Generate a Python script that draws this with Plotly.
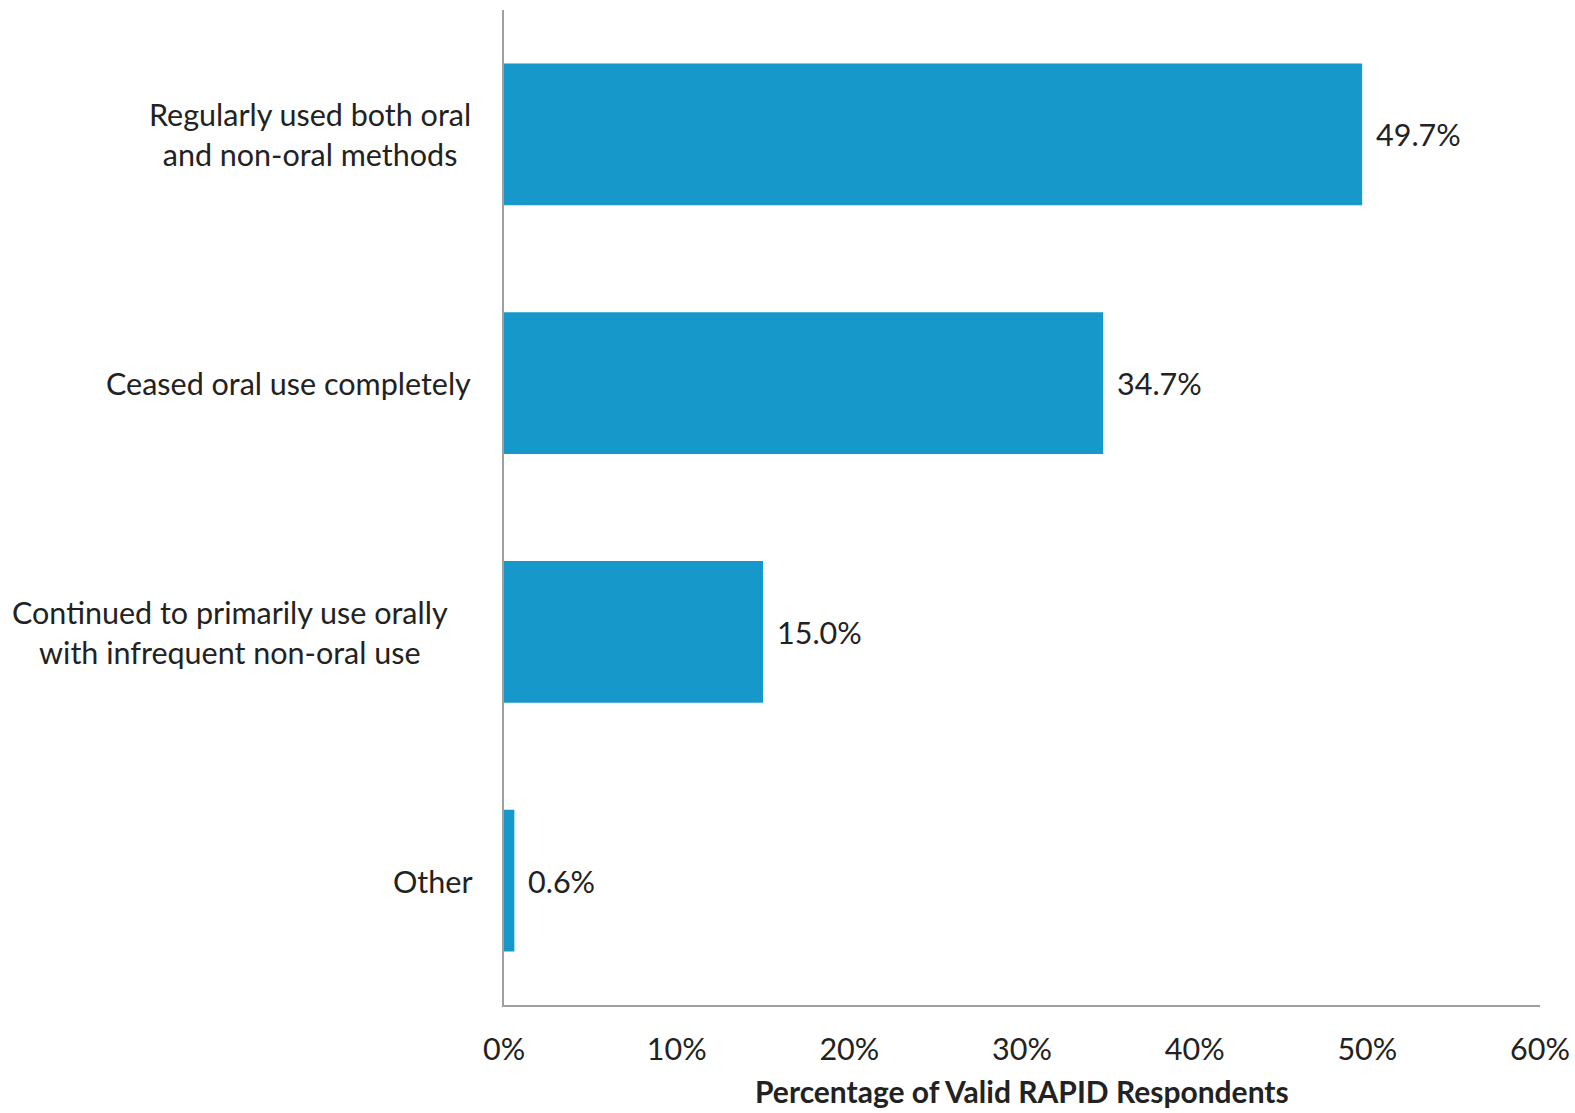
import plotly.graph_objects as go

categories = [
    "Regularly used both oral<br>and non-oral methods",
    "Ceased oral use completely",
    "Continued to primarily use orally<br>with infrequent non-oral use",
    "Other",
]
values = [49.7, 34.7, 15.0, 0.6]
tick_vals = [0, 10, 20, 30, 40, 50, 60]
tick_text = ["0%", "10%", "20%", "30%", "40%", "50%", "60%"]
x_title = "Percentage of Valid RAPID Respondents"

BAR = "#1798CA"
AXIS = "#A0A0A0"
TEXT = "#222222"
FONT = "Lato"
FS = 30.5

W, H = 1575, 1113
ML, MR, MT, MB = 504, 35, 10, 108
plot_w = W - ML - MR
plot_h = H - MT - MB

fig = go.Figure(
    go.Bar(
        x=values,
        y=categories,
        orientation="h",
        marker=dict(color=BAR, line=dict(width=0)),
        width=0.57,
        hoverinfo="skip",
    )
)

# right edge (px from left of page) for each category label block
label_right_px = [473, 473, 450, 475]
for cat, right_px in zip(categories, label_right_px):
    fig.add_annotation(
        x=(right_px - ML) / plot_w, xref="paper", xanchor="right",
        y=cat, yref="y", yanchor="middle",
        text=cat, showarrow=False, align="center",
        font=dict(family=FONT, size=FS, color=TEXT),
    )

# value labels just past each bar end
for cat, v in zip(categories, values):
    fig.add_annotation(
        x=v, xref="x", xanchor="left", xshift=12,
        y=cat, yref="y", yanchor="middle",
        text=f"{v:.1f}%", showarrow=False,
        font=dict(family=FONT, size=FS, color=TEXT),
    )

fig.add_annotation(
    x=0.5, xref="paper", xanchor="center",
    y=-(1091 - (H - MB)) / plot_h, yref="paper", yanchor="middle",
    text=f"<b>{x_title}</b>", showarrow=False,
    font=dict(family=FONT, size=30, color=TEXT),
)

fig.update_layout(
    width=W, height=H,
    margin=dict(l=ML, r=MR, t=MT, b=MB, pad=0, autoexpand=False),
    paper_bgcolor="white", plot_bgcolor="white",
    showlegend=False,
    bargap=0.43,
)
fig.update_xaxes(
    range=[0, 60], tickvals=tick_vals, ticktext=tick_text,
    showgrid=False, zeroline=False,
    showline=True, linecolor=AXIS, linewidth=2,
    ticks="", ticklen=0, ticklabelstandoff=16,
    ticklabeloverflow="allow", automargin=False,
    tickfont=dict(family=FONT, size=FS, color=TEXT),
    fixedrange=True,
)
fig.update_yaxes(
    autorange="reversed", showticklabels=False,
    showgrid=False, zeroline=False,
    showline=True, linecolor=AXIS, linewidth=2,
    ticks="", fixedrange=True, automargin=False,
)

fig.write_html("out.html")
